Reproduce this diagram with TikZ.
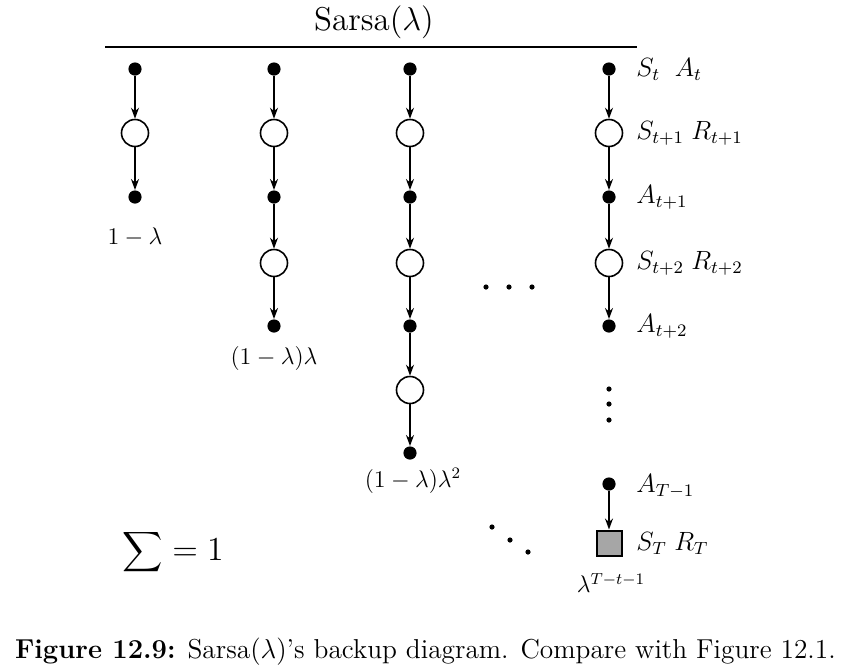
\documentclass[tikz,border=0pt]{standalone}
\usetikzlibrary{arrows.meta}
\begin{document}
\begin{tikzpicture}[x=0.5pt,y=-0.5pt,
  font=\fontsize{12}{14}\selectfont,
  act/.style={circle,fill=black,inner sep=0pt,minimum size=6.6pt},
  st/.style={circle,draw=black,fill=white,line width=0.8pt,inner sep=0pt,minimum size=13.5pt},
  term/.style={rectangle,draw=black,fill=black!35,line width=1pt,inner sep=0pt,minimum size=12.5pt},
  arr/.style={-{Stealth[length=5.5pt,width=4pt]},line width=0.8pt},
  lab/.style={anchor=west,inner sep=0pt,scale=1.1},
  sd/.style={circle,fill=black,inner sep=0pt,minimum size=2.6pt}]
\useasboundingbox (0,0) rectangle (853,670);
% title
\node[scale=1.375] (title) at (374,22) {Sarsa($\lambda$)};
\coordinate (tl) at (105,47);
\coordinate (tr) at (637,47);
\draw[line width=0.9pt] (tl) -- (tr);
% column 1
\node[act] (a1) at (135,69) {};
\node[st]  (b1) at (135,133) {};
\node[act] (c1) at (135,197) {};
\draw[arr] (a1) -- (b1);
\draw[arr] (b1) -- (c1);
\node (l1) at (135,237) {$1-\lambda$};
% column 2
\node[act] (a2) at (274,69) {};
\node[st]  (b2) at (274,133) {};
\node[act] (c2) at (274,197) {};
\node[st]  (d2) at (274,263) {};
\node[act] (e2) at (274,326) {};
\draw[arr] (a2) -- (b2);
\draw[arr] (b2) -- (c2);
\draw[arr] (c2) -- (d2);
\draw[arr] (d2) -- (e2);
\node (l2) at (274,358) {$(1-\lambda)\lambda$};
% column 3
\node[act] (a3) at (410,69) {};
\node[st]  (b3) at (410,133) {};
\node[act] (c3) at (410,197) {};
\node[st]  (d3) at (410,263) {};
\node[act] (e3) at (410,326) {};
\node[st]  (f3) at (410,390) {};
\node[act] (g3) at (410,453) {};
\draw[arr] (a3) -- (b3);
\draw[arr] (b3) -- (c3);
\draw[arr] (c3) -- (d3);
\draw[arr] (d3) -- (e3);
\draw[arr] (e3) -- (f3);
\draw[arr] (f3) -- (g3);
\node (l3) at (413,481) {$(1-\lambda)\lambda^2$};
% column 4
\node[act] (a4) at (609,69) {};
\node[st]  (b4) at (609,133) {};
\node[act] (c4) at (609,197) {};
\node[st]  (d4) at (609,263) {};
\node[act] (e4) at (609,326) {};
\node[act] (h4) at (609,484) {};
\node[term] (i4) at (609,543) {};
\draw[arr] (a4) -- (b4);
\draw[arr] (b4) -- (c4);
\draw[arr] (c4) -- (d4);
\draw[arr] (d4) -- (e4);
\draw[arr] (h4) -- (i4);
\node[lab] (ra) at (636,69) {$S_t\;\;A_t$};
\node[lab] (rb) at (636,133) {$S_{t+1}\;R_{t+1}$};
\node[lab] (rc) at (636,197) {$A_{t+1}$};
\node[lab] (rd) at (636,263) {$S_{t+2}\;R_{t+2}$};
\node[lab] (re) at (636,326) {$A_{t+2}$};
\node[lab] (rh) at (636,486) {$A_{T-1}$};
\node[lab] (ri) at (636,543) {$S_T\;R_T$};
\node (l4) at (611,583) {$\lambda^{T-t-1}$};
% vertical dots
\node[sd] (v1) at (609,389) {};
\node[sd] (v2) at (609,404) {};
\node[sd] (v3) at (609,420) {};
% horizontal dots
\node[sd] (h1) at (486,287) {};
\node[sd] (h2) at (509,287) {};
\node[sd] (h3) at (532,287) {};
% diagonal dots
\node[sd] (g1) at (492,527) {};
\node[sd] (g2) at (510,540) {};
\node[sd] (g3) at (528,552) {};
% sum
\node[anchor=west,inner sep=0pt,scale=1.4] (sum) at (122,552) {$\displaystyle\sum = 1$};
% caption
\node[anchor=west,scale=1.14] (cap) at (7,652) {\textbf{Figure 12.9:} Sarsa($\lambda$)'s backup diagram. Compare with Figure 12.1.};
\end{tikzpicture}
\end{document}
